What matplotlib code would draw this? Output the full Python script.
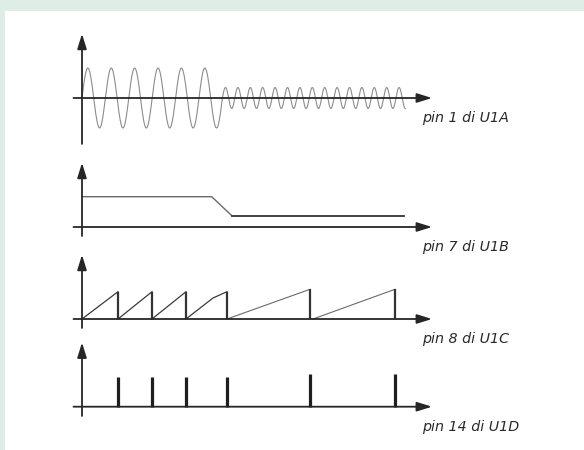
import numpy as np
import matplotlib
matplotlib.use("Agg")
import matplotlib.pyplot as plt
from matplotlib.patches import Rectangle

# ---------------- data (time in arbitrary units, signal in arbitrary units) ----------------
# pin 1 di U1A : oscillator output (two burst regimes)
sine_amp = [1.0, 0.35]          # amplitude of the two regimes
sine_period = [2.34, 1.24]      # period of the two regimes
sine_cycles = [6, 14.75]        # number of cycles in each regime

# pin 7 di U1B : control voltage (high -> low)
ctrl_t = [0.0, 12.97, 14.97, 32.2]
ctrl_v = [1.01, 1.01, 0.38, 0.38]

# pin 8 di U1C : integrator sawtooth (ramps + resets)
ramp_t = [[0.0, 3.6], [3.6, 7.0], [7.0, 10.4], [10.4, 13.1, 14.5], [14.5, 22.8], [23.1, 31.3]]
ramp_v = [[0.0, 0.91], [0.0, 0.91], [0.0, 0.91], [0.0, 0.70, 0.91], [0.0, 0.99], [0.0, 0.99]]
reset_t = [3.6, 7.0, 10.4, 14.5, 22.8, 31.3]
reset_v = [0.91, 0.91, 0.91, 0.91, 0.99, 0.99]

# pin 14 di U1D : output pulses
pulse_t = [3.6, 7.0, 10.4, 14.5, 22.8, 31.3]
pulse_v = [0.98, 0.98, 0.98, 0.98, 1.08, 1.08]

labels = ["pin 1 di U1A", "pin 7 di U1B", "pin 8 di U1C", "pin 14 di U1D"]

# ---------------- layout ----------------
W, H = 584, 450
fig = plt.figure(figsize=(W / 100, H / 100), dpi=100, facecolor="#dfede7")
fig.patches.append(Rectangle((5 / W, 0), 1 - 5 / W, (H - 11) / H, transform=fig.transFigure,
                             facecolor="white", edgecolor="none", zorder=-10))

origin_px = 82          # x pixel of time zero
px_per_t = 10.0         # pixels per time unit
px_per_v = 30.0         # pixels per signal unit
baselines_px = [98, 227, 319, 406.7]
ybottoms = [-1.53, -0.3, -0.3, -0.31]
ytop = 2.14
xleft = -0.85
xright = 35.0
axis_col = "#262626"

axes = []
for yb in baselines_px:
    ax = fig.add_axes([0, 0, 1, 1])
    ax.set_xlim(-origin_px / px_per_t, (W - origin_px) / px_per_t)
    ax.set_ylim((yb - H) / px_per_v, yb / px_per_v)
    ax.axis("off")
    ax.patch.set_alpha(0)
    axes.append(ax)

arrow_style = "-|>,head_length=0.45,head_width=0.14"
for ax, yb0, lab in zip(axes, ybottoms, labels):
    ax.annotate("", xy=(0, ytop), xytext=(0, yb0),
                arrowprops=dict(arrowstyle=arrow_style, mutation_scale=20, lw=1.3,
                                color=axis_col, shrinkA=0, shrinkB=0))
    ax.annotate("", xy=(xright, 0), xytext=(xleft, 0),
                arrowprops=dict(arrowstyle=arrow_style, mutation_scale=20, lw=1.3,
                                color=axis_col, shrinkA=0, shrinkB=0))
    ax.text(34.0, -0.8, lab, fontsize=10.3, style="italic", color="#2a2a2a",
            ha="left", va="baseline", family="DejaVu Sans")

# panel 1: sine bursts
ax = axes[0]
t0 = 0.0
for a, p, n in zip(sine_amp, sine_period, sine_cycles):
    t = np.linspace(0, n * p, int(n * 60) + 1)
    ax.plot(t0 + t, a * np.sin(2 * np.pi * t / p), color="#8c8c8c", lw=0.8, zorder=1)
    t0 += n * p

# panel 2: control voltage
ax = axes[1]
ax.plot(ctrl_t[:3], ctrl_v[:3], color="#6a6a6a", lw=1.0)
ax.plot(ctrl_t[2:], ctrl_v[2:], color="#333333", lw=1.3)

# panel 3: sawtooth
ax = axes[2]
for i, (tt, vv) in enumerate(zip(ramp_t, ramp_v)):
    ax.plot(tt, vv, color="#3a3a3a" if i < 4 else "#6a6a6a", lw=0.9 if i < 4 else 0.8)
ax.vlines(reset_t, 0, reset_v, color="#333333", lw=1.6)

# panel 4: pulses
ax = axes[3]
ax.vlines(pulse_t, 0, pulse_v, color="#1e1e1e", lw=2.3)

fig.savefig("out.png", dpi=100, facecolor=fig.get_facecolor())
